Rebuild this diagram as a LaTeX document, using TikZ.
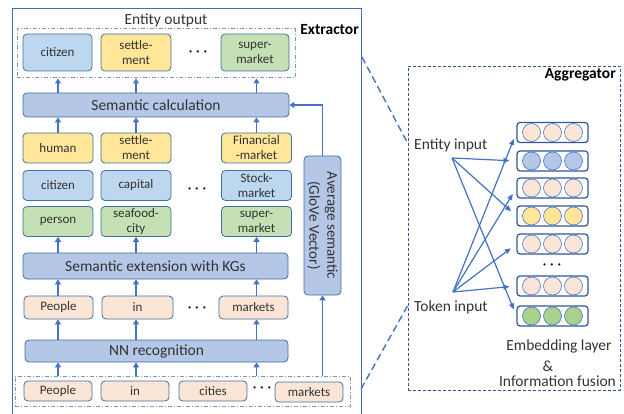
\documentclass[tikz,border=0pt]{standalone}
\usepackage{fontspec}
\setmainfont{Carlito}
\usetikzlibrary{arrows.meta,calc}
\definecolor{nodeline}{HTML}{41719C}
\definecolor{frameline}{HTML}{4A6DAE}
\definecolor{arrblue}{HTML}{4472C4}
\definecolor{lblue}{HTML}{BDD7EE}
\definecolor{lyellow}{HTML}{FFE699}
\definecolor{lgreen}{HTML}{C5E0B4}
\definecolor{barblue}{HTML}{B4C7E7}
\definecolor{peach}{HTML}{FBE5D6}
\definecolor{dgreen}{HTML}{A9D18E}
\definecolor{dashgrey}{HTML}{8497B0}
\definecolor{rowline}{HTML}{2F5597}
\definecolor{txt}{HTML}{333333}
\begin{document}
\begin{tikzpicture}[x=1pt,y=-1pt,
  box/.style={draw=nodeline, rounded corners=4pt, line width=0.8pt, text=txt,
    font=\fontsize{13}{15}\selectfont, align=center, inner sep=0pt,
    minimum width=70pt, minimum height=30pt},
  bar/.style={draw=nodeline, fill=barblue, rounded corners=4pt, line width=0.8pt,
    text=txt, font=\fontsize{15.5}{18}\selectfont, inner sep=0pt, align=center},
  arr/.style={draw=arrblue, line width=1.4pt, -{Triangle[length=5pt,width=6pt]}},
  aarr/.style={draw=arrblue, line width=1.2pt, -{Triangle[length=6pt,width=5pt]}, shorten >=7pt},
  ddbox/.style={draw=dashgrey, line width=1pt, dash pattern=on 4pt off 2pt on 1pt off 2pt,
    inner sep=0pt},
  emb/.style={draw=rowline, line width=1.2pt, rounded corners=3pt, minimum width=71pt,
    minimum height=20pt, inner sep=0pt},
  circ/.style={draw=arrblue, line width=0.6pt},
  lbl/.style={text=txt, font=\fontsize{15.5}{18}\selectfont, inner sep=0pt},
  dots/.style={text=black, inner sep=0pt, font=\fontsize{14}{14}\selectfont\boldmath},
]
\useasboundingbox (0,0) rectangle (624,414);

% Extractor frame
\draw[frameline, line width=1pt] (12,416) -- (12,9) -- (361,9) -- (361,416);
\node[text=black, font=\fontsize{15.5}{18}\selectfont\bfseries, anchor=east, inner sep=0pt] (extlbl) at (359,30) {Extractor};
\node[lbl] (outlbl) at (166,20) {Entity output};

% entity output box
\node[ddbox, minimum width=278pt, minimum height=49pt] (outbox) at (156,53.5) {};
\node[box, fill=lblue, minimum width=69pt, minimum height=37pt] (o1) at (57.5,52.5) {citizen};
\node[box, fill=lyellow, minimum height=37pt] (o2) at (136,52.5) {settle-\\ment};
\node[box, fill=lgreen, minimum width=68pt, minimum height=37pt] (o3) at (255,52.5) {super-\\market};
\node[dots] (od) at (198,52) {$\cdots$};

% semantic calculation
\node[bar, minimum width=266pt, minimum height=24pt] (sc) at (156,105) {Semantic calculation};

% three rows
\node[box, fill=lyellow] (h1) at (58,148) {human};
\node[box, fill=lyellow] (h2) at (136,148) {settle-\\ment};
\node[box, fill=lyellow] (h3) at (256.5,148) {Financial\\-market};
\node[box, fill=lblue] (c1) at (58,185.5) {citizen};
\node[box, fill=lblue] (c2) at (136,185.5) {capital};
\node[box, fill=lblue] (c3) at (256.5,185.5) {Stock-\\market};
\node[box, fill=lgreen] (p1) at (58,221.5) {person};
\node[box, fill=lgreen] (p2) at (136,221.5) {seafood-\\city};
\node[box, fill=lgreen] (p3) at (256.5,221.5) {super-\\market};
\node[dots] (cd) at (197,189) {$\cdots$};

\node[bar, minimum width=265pt, minimum height=26pt] (ext) at (155.5,266) {Semantic extension with KGs};

% tokens
\node[box, fill=peach, minimum width=69pt, minimum height=23pt] (t1) at (58.5,307.5) {People};
\node[box, fill=peach, minimum width=71pt, minimum height=23pt] (t2) at (137.5,307.5) {in};
\node[box, fill=peach, minimum width=69pt, minimum height=23pt] (t3) at (253.5,307.5) {markets};
\node[dots] (td) at (197,308) {$\cdots$};

\node[bar, minimum width=263pt, minimum height=22pt] (nn) at (156.5,351) {NN recognition};

% input box
\node[ddbox, minimum width=335pt, minimum height=30pt] (inbox) at (182.5,391) {};
\node[box, fill=peach, minimum width=68pt, minimum height=20pt] (b1) at (58,391) {People};
\node[box, fill=peach, minimum width=68pt, minimum height=20pt] (b2) at (135,391) {in};
\node[box, fill=peach, minimum width=68pt, minimum height=20pt] (b3) at (213,391) {cities};
\node[box, fill=peach, minimum width=68pt, minimum height=20pt] (b4) at (309,392) {markets};
\node[dots] (bd) at (262,388) {$\cdots$};

% average semantic
\node[bar, rotate=-90, minimum width=139pt, minimum height=37pt,
  font=\fontsize{15}{18}\selectfont] (avg) at (322.5,225.5) {Average semantic\\(GloVe Vector)};

% vertical arrows
\foreach \c in {p1,p2,p3}{
  \draw[arr] (sc.north -| \c) -- (outbox.south -| \c);
  \draw[arr] (h1.north -| \c) -- (sc.south -| \c);
  \draw[arr] (ext.north -| \c) -- (p1.south -| \c);
  \draw[arr] (t1.north -| \c) -- (ext.south -| \c);
  \draw[arr] (nn.north -| \c) -- (t1.south -| \c);
  \draw[arr] (inbox.north -| \c) -- (nn.south -| \c);
}
\draw[arr] (inbox.north -| avg) -- (avg.east);
\draw[arr] (avg.west) |- (sc.east);

% Aggregator
\node[draw=rowline, line width=0.8pt, dash pattern=on 3pt off 2pt, minimum width=212pt,
  minimum height=324pt, inner sep=0pt] (agg) at (514,228) {};
\node[text=black, font=\fontsize{15.5}{18}\selectfont\bfseries, anchor=east, inner sep=0pt] (agglbl) at (616,75) {Aggregator};

\coordinate (e1) at (362,57);
\coordinate (e2) at (361,389);
\coordinate (a1) at (407,142);
\coordinate (a2) at (408,305);
\draw[arrblue, line width=1.4pt, dash pattern=on 7pt off 4pt] (e1) -- (a1);
\draw[arrblue, line width=1.4pt, dash pattern=on 7pt off 4pt] (e2) -- (a2);

\node[lbl, anchor=west] (entin) at (414,145) {Entity input};
\node[lbl, anchor=west] (tokin) at (414,307) {Token input};
\coordinate (ei) at (452,158);
\coordinate (ti) at (453,292);

\node[emb] (r1) at (552.5,132.5) {};
\node[emb] (r2) at (552.5,161) {};
\node[emb] (r3) at (552.5,188) {};
\node[emb] (r4) at (552.5,216) {};
\node[emb] (r5) at (552.5,244) {};
\node[emb] (r6) at (552.5,286) {};
\node[emb] (r7) at (552.5,316) {};
\foreach \r/\col in {r1/peach,r2/barblue,r3/peach,r4/lyellow,r5/peach,r6/peach,r7/dgreen}{
  \foreach \dx in {-21,0,21}{
    \filldraw[circ, fill=\col] ($(\r)+(\dx,0)$) circle (9pt);
  }
}
\node[dots] (rd) at (552,265) {$\cdots$};

\draw[aarr] (ei) -- (r2.west);
\draw[aarr] (ei) -- (r4.west);
\draw[aarr] (ei) -- (r7.west);
\draw[aarr] (ti) -- (r1.west);
\draw[aarr] (ti) -- (r3.west);
\draw[aarr] (ti) -- (r5.west);
\draw[aarr] (ti) -- (r6.west);

\node[lbl] (emblbl) at (559,346) {Embedding layer};
\node[lbl] (amp) at (548,366) {\&};
\node[lbl] (fus) at (557.5,381) {Information fusion};
\end{tikzpicture}
\end{document}
